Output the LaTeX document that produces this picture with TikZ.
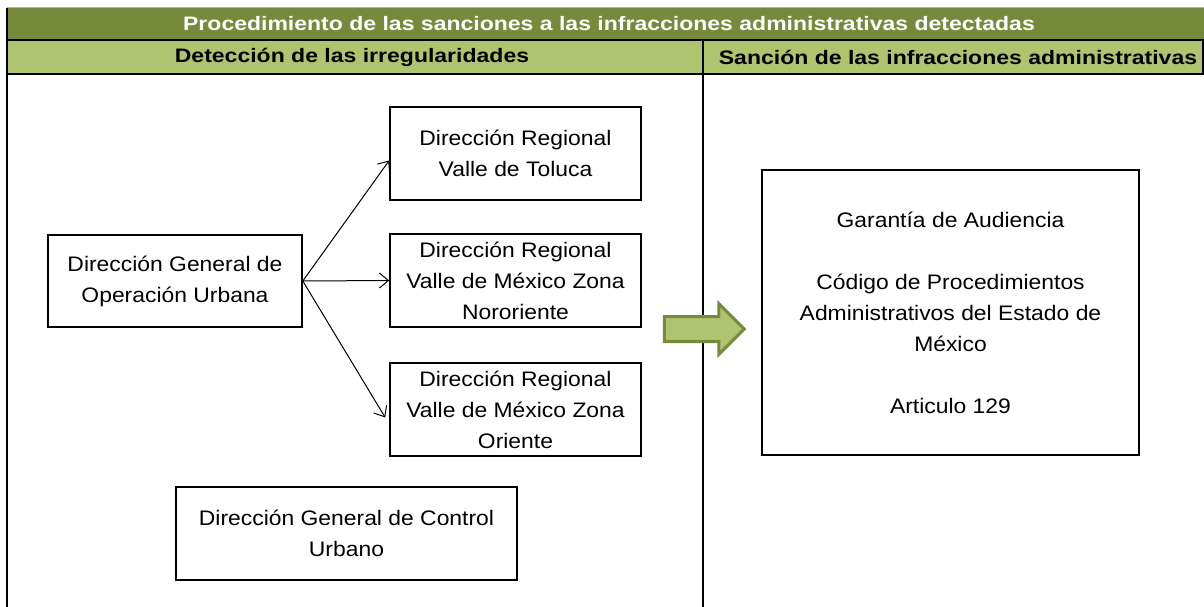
\documentclass[tikz,border=0pt]{standalone}
\usepackage{fontspec}
\setmainfont[FakeStretch=1.09]{Liberation Sans}
\newfontfamily\titular[FakeStretch=1.18]{Liberation Sans}
\usetikzlibrary{arrows.meta,shapes.arrows}

\definecolor{olivoOscuro}{RGB}{119,137,58}
\definecolor{olivoClaro}{RGB}{176,196,112}

\begin{document}
\begin{tikzpicture}[x=1pt, y=-1pt, line join=miter,
  caja/.style={draw, line width=1.6pt, inner sep=0pt, align=center,
    font=\fontsize{21}{31}\selectfont},
  encabezado/.style={font=\titular\bfseries\fontsize{19.5}{22}\selectfont, inner sep=0pt},
  flecha/.style={-{Straight Barb[length=9pt,width=15pt]}, line width=1pt},
  marco/.style={line width=2pt}]

  %% ════ encabezados ════
  \fill[olivoOscuro] (7,8) rectangle (1204,40);
  \fill[olivoClaro] (7,40) rectangle (1204,74);
  \draw[gray!60, line width=1pt] (7,7.5) -- (1204,7.5);
  \node[encabezado, text=white] (titulo) at (609,24) {Procedimiento de las sanciones a las infracciones administrativas detectadas};
  \node[encabezado] (deteccion) at (352,57) {Detección de las irregularidades};
  \node[encabezado] (sancion) at (958,57) {Sanción de las infracciones administrativas};

  %% ════ líneas de la tabla ════
  \draw[marco] (6,40) -- (1204,40);
  \draw[marco] (6,74) -- (1204,74);
  \draw[marco] (7,8) -- (7,607);
  \draw[marco] (703,40) -- (703,607);
  \draw[marco] (1203,40) -- (1203,74);

  %% ════ cajas ════
  \node[caja, minimum width=254pt, minimum height=92pt] (dgou) at (175,281)
    {Dirección General de\\Operación Urbana};
  \node[caja, minimum width=251pt, minimum height=93pt] (toluca) at (515.5,153.5)
    {Dirección Regional\\Valle de Toluca};
  \node[caja, minimum width=251pt, minimum height=93pt] (nororiente) at (515.5,280.5)
    {Dirección Regional\\Valle de México Zona\\Nororiente};
  \node[caja, minimum width=251pt, minimum height=93pt] (oriente) at (515.5,409.5)
    {Dirección Regional\\Valle de México Zona\\Oriente};
  \node[caja, minimum width=341pt, minimum height=93pt] (control) at (346.5,533.5)
    {Dirección General de Control\\Urbano};
  \node[caja, minimum width=377pt, minimum height=285pt] (garantia) at (950.5,312.5)
    {Garantía de Audiencia\\[31pt]Código de Procedimientos\\Administrativos del Estado de\\México\\[31pt]Articulo 129};

  %% ════ conectores ════
  \draw[flecha] (dgou.east) -- ([yshift=-7pt]toluca.west);
  \draw[flecha] (dgou.east) -- (nororiente.west);
  \draw[flecha] (dgou.east) -- ([xshift=-4pt,yshift=-8pt]oriente.west);

  %% ════ flecha gruesa ════
  \node[single arrow, draw=olivoOscuro, fill=olivoClaro, line width=3pt,
    minimum height=80pt, single arrow head extend=13pt,
    inner xsep=0pt, inner ysep=11pt, text height=0pt, text depth=0pt] (paso) at (698,329) {};

  \pgfresetboundingbox
  \path[use as bounding box] (0,0) rectangle (1204,607);
\end{tikzpicture}
\end{document}
